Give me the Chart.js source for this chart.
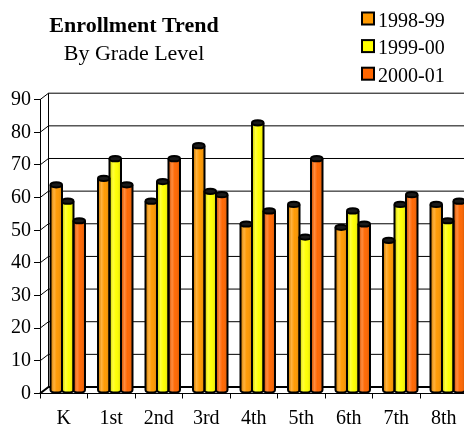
<!DOCTYPE html>
<html><head><meta charset="utf-8">
<script src="https://cdn.jsdelivr.net/npm/chart.js@4"></script>
<style>html,body{margin:0;padding:0;overflow:hidden;background:#fff}canvas{display:block}</style>
</head><body>
<canvas id="c" width="480" height="424"></canvas>
<script>
const grades = ['K','1st','2nd','3rd','4th','5th','6th','7th','8th'];
const seriesLabels = ['1998-99','1999-00','2000-01'];
const enr1998 = [63,65,58,75,51,57,50,46,57];
const enr1999 = [58,71,64,61,82,47,55,57,52];
const enr2000 = [52,63,71,60,55,71,51,60,58];
const seriesColors = ['#FF9900','#FFFF00','#FF6600'];
const yMin = 0, yMax = 90, yStep = 10;
const titleText = 'Enrollment Trend';
const subtitleText = 'By Grade Level';

const FONT = "'Liberation Serif','Times New Roman',serif";
const DEPTH = {dx: 8.5, dy: -6.5};
const BAR_SHIFT = {dx: 4, dy: -3};

const wallPlugin = {
  id: 'wall3d',
  beforeDatasetsDraw(chart) {
    const {ctx, chartArea: a, scales: {y}} = chart;
    ctx.save();
    ctx.strokeStyle = '#000';
    for (let v = yMin; v <= yMax; v += yStep) {
      const py = y.getPixelForValue(v);
      ctx.lineWidth = (v === yMin) ? 2 : 1;
      ctx.beginPath();
      ctx.moveTo(a.left, py);
      ctx.lineTo(a.left + DEPTH.dx, py + DEPTH.dy);
      ctx.lineTo(a.right + DEPTH.dx + 20, py + DEPTH.dy);
      ctx.stroke();
    }
    ctx.lineWidth = 1;
    ctx.beginPath();
    ctx.moveTo(a.left + DEPTH.dx, y.getPixelForValue(yMax) + DEPTH.dy);
    ctx.lineTo(a.left + DEPTH.dx, y.getPixelForValue(yMin) + DEPTH.dy);
    ctx.stroke();
    ctx.restore();
    ctx.save();
    ctx.translate(BAR_SHIFT.dx, BAR_SHIFT.dy);
  },
  afterDatasetsDraw(chart) {
    const ctx = chart.ctx;
    chart.data.datasets.forEach((ds, i) => {
      const meta = chart.getDatasetMeta(i);
      meta.data.forEach(el => {
        const {x, y, base, width} = el.getProps(['x', 'y', 'base', 'width'], true);
        const l = x - width / 2, r = x + width / 2, rx = width / 2, ry = 2.6;
        ctx.fillStyle = ds.backgroundColor;
        ctx.beginPath(); ctx.ellipse(x, base, rx, ry, 0, 0, Math.PI); ctx.fill();
        const g = ctx.createLinearGradient(l, 0, r, 0);
        g.addColorStop(0, 'rgba(0,0,0,0.15)');
        g.addColorStop(0.3, 'rgba(255,255,255,0.25)');
        g.addColorStop(0.55, 'rgba(255,255,255,0.02)');
        g.addColorStop(1, 'rgba(0,0,0,0.14)');
        ctx.fillStyle = g;
        ctx.beginPath();
        ctx.moveTo(l, y); ctx.lineTo(r, y); ctx.lineTo(r, base);
        ctx.ellipse(x, base, rx, ry, 0, 0, Math.PI);
        ctx.closePath(); ctx.fill();
        ctx.strokeStyle = '#000'; ctx.lineWidth = 2;
        ctx.beginPath();
        ctx.moveTo(l, y); ctx.lineTo(l, base);
        ctx.ellipse(x, base, rx, ry, 0, Math.PI, 0, true);
        ctx.lineTo(r, y);
        ctx.stroke();
        ctx.fillStyle = '#1a1a1a';
        ctx.beginPath(); ctx.ellipse(x, y, rx, ry, 0, 0, 2 * Math.PI); ctx.fill(); ctx.stroke();
      });
    });
    ctx.restore();
  }
};

const textPlugin = {
  id: 'titleLegend',
  afterDraw(chart) {
    const ctx = chart.ctx;
    ctx.save();
    ctx.fillStyle = '#000';
    ctx.textBaseline = 'alphabetic';
    ctx.textAlign = 'center';
    ctx.font = 'bold 22px ' + FONT;
    ctx.fillText(titleText, 134, 31.7);
    ctx.font = '22px ' + FONT;
    ctx.fillText(subtitleText, 134, 60);
    ctx.textAlign = 'left';
    ctx.font = '20px ' + FONT;
    chart.data.datasets.forEach((ds, i) => {
      const sy = 12.5 + i * 27.6;
      ctx.fillStyle = ds.backgroundColor;
      ctx.fillRect(362, sy, 12, 12);
      ctx.strokeStyle = '#000'; ctx.lineWidth = 2;
      ctx.strokeRect(362, sy, 12, 12);
      ctx.fillStyle = '#000';
      ctx.fillText(ds.label, 378, 26.7 + i * 27.5);
    });
    ctx.restore();
  }
};

new Chart(document.getElementById('c'), {
  type: 'bar',
  data: {
    labels: grades,
    datasets: [
      {label: seriesLabels[0], data: enr1998, backgroundColor: seriesColors[0], borderWidth: 0},
      {label: seriesLabels[1], data: enr1999, backgroundColor: seriesColors[1], borderWidth: 0},
      {label: seriesLabels[2], data: enr2000, backgroundColor: seriesColors[2], borderWidth: 0}
    ]
  },
  options: {
    responsive: false,
    animation: false,
    layout: {padding: {top: 99.7, right: 12.5, left: 0, bottom: 0}},
    datasets: {bar: {categoryPercentage: 0.726, barPercentage: 1, clip: false}},
    plugins: {legend: {display: false}, title: {display: false}, tooltip: {enabled: false}},
    scales: {
      x: {
        grid: {drawOnChartArea: false, drawTicks: true, tickLength: 5, color: '#000'},
        border: {display: true, color: '#000', width: 1},
        ticks: {font: {family: FONT, size: 20}, color: '#000', padding: 8, maxRotation: 0, autoSkip: false},
        afterFit(s) { s.height = 30.5; }
      },
      y: {
        min: yMin, max: yMax,
        ticks: {stepSize: yStep, font: {family: FONT, size: 20}, color: '#000', padding: 3},
        grid: {drawOnChartArea: false, tickLength: 6, color: '#000'},
        border: {display: true, color: '#000', width: 1},
        afterFit(s) { s.width = 40; }
      }
    }
  },
  plugins: [wallPlugin, textPlugin]
});
</script>
</body></html>
